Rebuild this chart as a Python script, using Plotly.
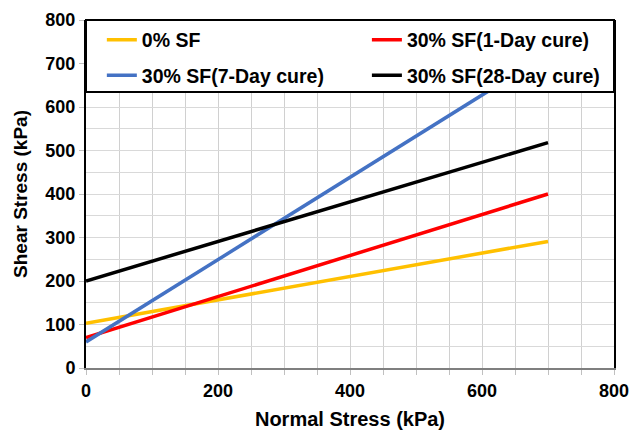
import plotly.graph_objects as go

# Data
series_names = ["0% SF", "30% SF(1-Day cure)", "30% SF(7-Day cure)", "30% SF(28-Day cure)"]
normal_stress = [0, 700]
shear_0sf = [103, 291]
shear_1day = [70, 400]
shear_7day = [60, 722]
shear_28day = [200, 518]
series_colors = ["#FFC000", "#FF0000", "#4472C4", "#000000"]
x_ticks = [0, 200, 400, 600, 800]
y_ticks = [0, 100, 200, 300, 400, 500, 600, 700, 800]

FONT = "Liberation Sans, Arial, sans-serif"

fig = go.Figure()
all_y = [shear_0sf, shear_1day, shear_7day, shear_28day]
legend_ids = ["legend", "legend2", "legend3", "legend4"]
for name, ys, col, lg in zip(series_names, all_y, series_colors, legend_ids):
    fig.add_trace(go.Scatter(x=normal_stress, y=ys, mode="lines", name=name,
                             line=dict(color=col, width=3.5), legend=lg,
                             showlegend=True))

# legend box (white, black border) covering the top of the plot area
fig.add_shape(type="rect", xref="x domain", yref="y domain", x0=0, x1=1,
              y0=0.793, y1=1, fillcolor="white", line=dict(color="black", width=2),
              layer="above")

tickfont = dict(family=FONT, size=18, color="black", weight="bold")
legfont = dict(family=FONT, size=19.5, color="black", weight="bold")
leg_pos = {"legend": (0.030, 0.9425), "legend2": (0.532, 0.9425),
           "legend3": (0.030, 0.84), "legend4": (0.532, 0.84)}
legend_layout = {k: dict(x=v[0], y=v[1], xanchor="left", yanchor="middle",
                         bgcolor="rgba(0,0,0,0)", font=legfont)
                 for k, v in leg_pos.items()}

fig.update_layout(
    width=633, height=430,
    margin=dict(l=86, r=19, t=20, b=62),
    paper_bgcolor="white", plot_bgcolor="white",
    font=dict(family=FONT, color="black"),
    showlegend=True,
    **legend_layout,
    xaxis=dict(range=[0, 800], tickvals=x_ticks, ticktext=[str(v) for v in x_ticks],
               tickfont=tickfont, showgrid=True, gridcolor="#d0d0d0", gridwidth=1,
               minor=dict(dtick=50, showgrid=True, gridcolor="#d0d0d0", ticks="outside",
                          ticklen=5, tickcolor="#c0c0c0"),
               ticks="outside", ticklen=5, tickcolor="#c0c0c0", automargin=False,
               showline=True, linecolor="#7f7f7f", linewidth=2, zeroline=False,
               title=dict(text="Normal Stress (kPa)", standoff=13,
                          font=dict(family=FONT, size=20, color="black", weight="bold"))),
    yaxis=dict(range=[0, 800], tickvals=y_ticks, ticktext=[str(v) for v in y_ticks],
               tickfont=tickfont, showgrid=True, gridcolor="#d9d9d9", gridwidth=1,
               minor=dict(dtick=50, showgrid=True, gridcolor="#d9d9d9"),
               ticks="outside", ticklen=5, tickcolor="#c0c0c0", automargin=False,
               showline=True, linecolor="black", linewidth=2, mirror=True, zeroline=False,
               title=dict(text="Shear Stress (kPa)", standoff=13,
                          font=dict(family=FONT, size=19, color="black", weight="bold"))),
)

fig.write_html("out.html")
